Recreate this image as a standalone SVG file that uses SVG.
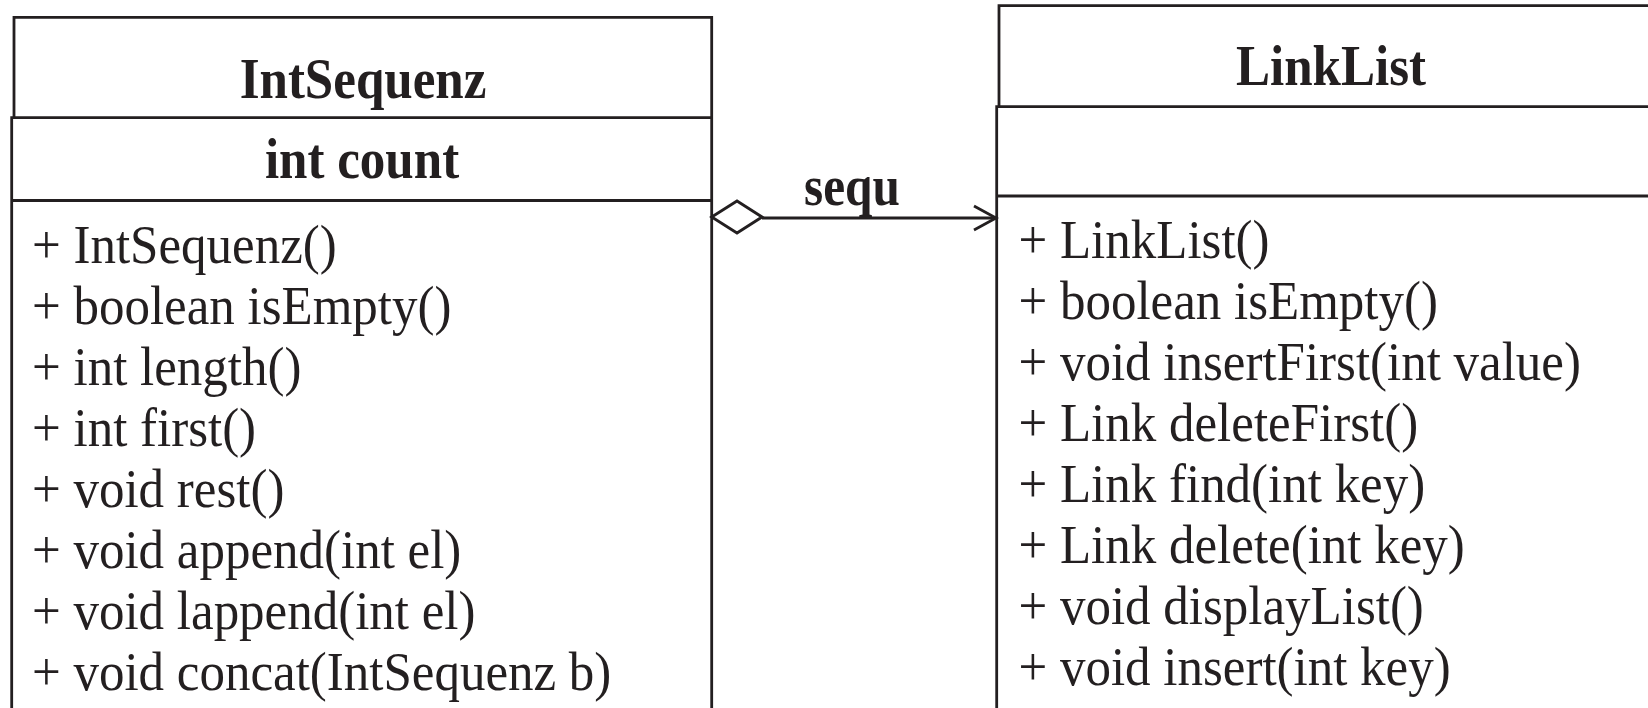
<svg xmlns="http://www.w3.org/2000/svg" width="1648" height="708" viewBox="0 0 1648 708">
<style>
.ln{fill:none;stroke:#231f20;stroke-width:2.8}
.t{font-family:"Liberation Serif","Times New Roman",serif;fill:#231f20}
.b{font-weight:bold;font-size:58px;text-anchor:middle}
.m{font-size:55px}
</style>
<rect width="1648" height="708" fill="#fff"/>
<g id="IntSequenz">
<path class="ln" d="M14 118 V17.3 H711.7 V720 M11.7 720 V117.7 H711.7 M11.7 200.5 H711.7"/>
<text class="t b" transform="translate(363,98) scale(0.88,1)">IntSequenz</text>
<text class="t b" transform="translate(362,178) scale(0.88,1)">int count</text>
<g transform="translate(32,0) scale(0.927,1)">
<text class="t m" y="263">+ IntSequenz()</text>
<text class="t m" y="324">+ boolean isEmpty()</text>
<text class="t m" y="385">+ int length()</text>
<text class="t m" y="446">+ int first()</text>
<text class="t m" y="507">+ void rest()</text>
<text class="t m" y="568">+ void append(int el)</text>
<text class="t m" y="629">+ void lappend(int el)</text>
<text class="t m" y="690">+ void concat(IntSequenz b)</text>
</g>
</g>
<g id="LinkList">
<path class="ln" d="M999 107 V5.7 H1660 M996.7 720 V106.7 H1660 M996.7 196 H1660"/>
<text class="t b" transform="translate(1331,85) scale(0.88,1)">LinkList</text>
<g transform="translate(1018.5,0) scale(0.927,1)">
<text class="t m" y="258">+ LinkList()</text>
<text class="t m" y="319">+ boolean isEmpty()</text>
<text class="t m" y="380">+ void insertFirst(int value)</text>
<text class="t m" y="441">+ Link deleteFirst()</text>
<text class="t m" y="502">+ Link find(int key)</text>
<text class="t m" y="563">+ Link delete(int key)</text>
<text class="t m" y="624">+ void displayList()</text>
<text class="t m" y="685">+ void insert(int key)</text>
</g>
</g>
<g id="connectors">
<path class="ln" d="M711.7 217 L737 201 L762 217 L737 233 Z" fill="#fff"/>
<path class="ln" d="M762 218 H996"/>
<path class="ln" d="M974 206 L996 218 L974 230"/>
<text class="t" font-size="56" font-weight="bold" text-anchor="middle" transform="translate(852,205) scale(0.88,1)">sequ</text>
</g>
</svg>
